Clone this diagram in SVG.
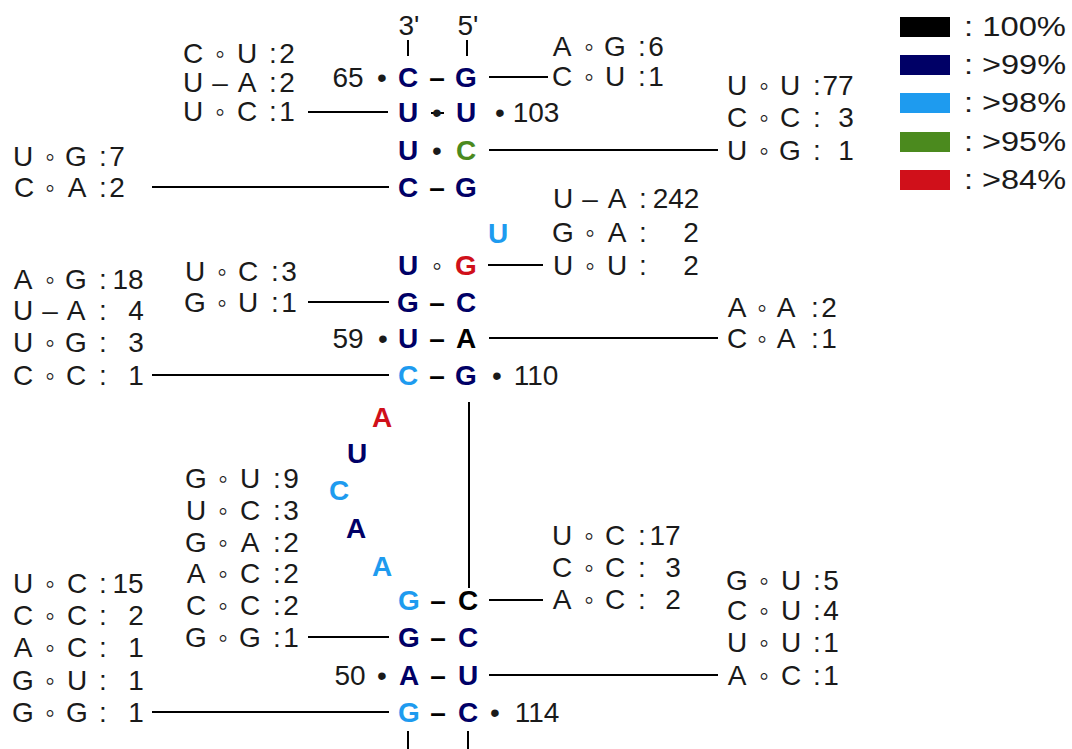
<svg xmlns="http://www.w3.org/2000/svg" width="1072" height="749" viewBox="0 0 1072 749">
<style>
.lb{font-family:"Liberation Sans",Arial,sans-serif;font-size:28px;fill:#1a1a1a;text-anchor:middle}
.b{font-family:"Liberation Sans",Arial,sans-serif;font-size:28px;font-weight:bold;text-anchor:middle}
.n{font-family:"Liberation Sans",Arial,sans-serif;font-size:28px;fill:#1a1a1a;text-anchor:middle}
.nv{fill:#000066}.lt{fill:#1e9bef}.gr{fill:#4b8a1e}.rd{fill:#d0101a}.bk{fill:#000}
.ln{stroke:#000;stroke-width:2;fill:none}
.lg{font-family:"Liberation Sans",Arial,sans-serif;font-size:28px;fill:#1a1a1a}
</style>
<rect width="1072" height="749" fill="#fff"/>

<g id="connectors">
<line class="ln" x1="408" y1="40" x2="408" y2="56"/>
<line class="ln" x1="467" y1="40" x2="467" y2="56"/>
<line class="ln" x1="489" y1="77" x2="548" y2="77"/>
<line class="ln" x1="308" y1="112" x2="388" y2="112"/>
<line class="ln" x1="489" y1="150" x2="718" y2="150"/>
<line class="ln" x1="152" y1="187" x2="389" y2="187"/>
<line class="ln" x1="488" y1="265" x2="543" y2="265"/>
<line class="ln" x1="308" y1="302" x2="389" y2="302"/>
<line class="ln" x1="489" y1="338" x2="718" y2="338"/>
<line class="ln" x1="152" y1="375" x2="389" y2="375"/>
<line class="ln" x1="469" y1="402" x2="469" y2="588"/>
<line class="ln" x1="489" y1="600" x2="543" y2="600"/>
<line class="ln" x1="308" y1="637" x2="389" y2="637"/>
<line class="ln" x1="489" y1="675" x2="718" y2="675"/>
<line class="ln" x1="152" y1="712" x2="389" y2="712"/>
<line class="ln" x1="408" y1="731" x2="408" y2="749"/>
<line class="ln" x1="468" y1="731" x2="468" y2="749"/>
</g>

<g id="ends">
<text class="n" font-size="26" x="409" y="35">3'</text>
<text class="n" font-size="26" x="468" y="35">5'</text>
</g>

<g id="stem">
<g id="r1"><text class="n" x="348" y="87">65</text><text class="n" x="382" y="87">•</text>
<text class="b nv" x="408" y="87">C</text><text class="b bk" x="437" y="87">–</text><text class="b nv" x="466" y="87">G</text></g>
<g id="r2"><text class="b nv" x="408" y="122">U</text><line x1="431" y1="113" x2="444" y2="113" stroke="#000" stroke-width="2"/><text class="n" x="437" y="122">•</text><text class="b nv" x="466" y="122">U</text>
<text class="n" x="500" y="122">•</text><text class="n" x="536" y="122">103</text></g>
<g id="r3"><text class="b nv" x="408" y="160">U</text><text class="n" x="437" y="160">•</text><text class="b gr" x="466" y="160">C</text></g>
<g id="r4"><text class="b nv" x="408" y="197">C</text><text class="b bk" x="437" y="197">–</text><text class="b nv" x="466" y="197">G</text></g>
<g id="bulge"><text class="b lt" x="498" y="243">U</text></g>
<g id="r5"><text class="b nv" x="408" y="275">U</text><text class="n" x="437" y="275">◦</text><text class="b rd" x="466" y="275">G</text></g>
<g id="r6"><text class="b nv" x="408" y="312">G</text><text class="b bk" x="437" y="312">–</text><text class="b nv" x="466" y="312">C</text></g>
<g id="r7"><text class="n" x="348" y="348">59</text><text class="n" x="383" y="348">•</text>
<text class="b nv" x="408" y="348">U</text><text class="b bk" x="437" y="348">–</text><text class="b bk" x="466" y="348">A</text></g>
<g id="r8"><text class="b lt" x="408" y="385">C</text><text class="b bk" x="437" y="385">–</text><text class="b nv" x="466" y="385">G</text>
<text class="n" x="497" y="385">•</text><text class="n" x="536" y="385">110</text></g>
<g id="loop">
<text class="b rd" x="382" y="427">A</text>
<text class="b nv" x="357" y="463">U</text>
<text class="b lt" x="339" y="500">C</text>
<text class="b nv" x="356" y="538">A</text>
<text class="b lt" x="382" y="576">A</text>
</g>
<g id="r9"><text class="b lt" x="409" y="610">G</text><text class="b bk" x="438" y="610">–</text><text class="b bk" x="468" y="610">C</text></g>
<g id="r10"><text class="b nv" x="409" y="647">G</text><text class="b bk" x="438" y="647">–</text><text class="b nv" x="468" y="647">C</text></g>
<g id="r11"><text class="n" x="350" y="685">50</text><text class="n" x="382" y="685">•</text>
<text class="b nv" x="409" y="685">A</text><text class="b bk" x="438" y="685">–</text><text class="b nv" x="468" y="685">U</text></g>
<g id="r12"><text class="b lt" x="409" y="722">G</text><text class="b bk" x="438" y="722">–</text><text class="b nv" x="468" y="722">C</text>
<text class="n" x="495" y="722">•</text><text class="n" x="537" y="722">114</text></g>
</g>

<g id="blockA" class="lb">
<text y="63"><tspan x="193">C</tspan><tspan x="220">◦</tspan><tspan x="247">U</tspan><tspan x="273">:</tspan><tspan x="287">2</tspan></text>
<text y="92"><tspan x="193">U</tspan><tspan x="220">–</tspan><tspan x="247">A</tspan><tspan x="273">:</tspan><tspan x="287">2</tspan></text>
<text y="121"><tspan x="193">U</tspan><tspan x="220">◦</tspan><tspan x="247">C</tspan><tspan x="273">:</tspan><tspan x="287">1</tspan></text>
</g>
<g id="blockB" class="lb">
<text y="56"><tspan x="562">A</tspan><tspan x="589">◦</tspan><tspan x="615">G</tspan><tspan x="642">:</tspan><tspan x="656">6</tspan></text>
<text y="86"><tspan x="562">C</tspan><tspan x="589">◦</tspan><tspan x="615">U</tspan><tspan x="642">:</tspan><tspan x="656">1</tspan></text>
</g>
<g id="blockC" class="lb">
<text y="95"><tspan x="737">U</tspan><tspan x="764">◦</tspan><tspan x="790">U</tspan><tspan x="817">:</tspan><tspan x="838">77</tspan></text>
<text y="127"><tspan x="737">C</tspan><tspan x="764">◦</tspan><tspan x="790">C</tspan><tspan x="817">:</tspan><tspan x="846">3</tspan></text>
<text y="160"><tspan x="737">U</tspan><tspan x="764">◦</tspan><tspan x="790">G</tspan><tspan x="817">:</tspan><tspan x="846">1</tspan></text>
</g>
<g id="blockD" class="lb">
<text y="166"><tspan x="23">U</tspan><tspan x="50">◦</tspan><tspan x="76">G</tspan><tspan x="103">:</tspan><tspan x="117">7</tspan></text>
<text y="197"><tspan x="24">C</tspan><tspan x="50">◦</tspan><tspan x="77">A</tspan><tspan x="103">:</tspan><tspan x="117">2</tspan></text>
</g>
<g id="blockE" class="lb">
<text y="289"><tspan x="23">A</tspan><tspan x="50">◦</tspan><tspan x="76">G</tspan><tspan x="103">:</tspan><tspan x="128">18</tspan></text>
<text y="320"><tspan x="23">U</tspan><tspan x="50">–</tspan><tspan x="76">A</tspan><tspan x="103">:</tspan><tspan x="136">4</tspan></text>
<text y="352"><tspan x="23">U</tspan><tspan x="50">◦</tspan><tspan x="76">G</tspan><tspan x="103">:</tspan><tspan x="136">3</tspan></text>
<text y="385"><tspan x="23">C</tspan><tspan x="50">◦</tspan><tspan x="76">C</tspan><tspan x="103">:</tspan><tspan x="136">1</tspan></text>
</g>
<g id="blockH" class="lb">
<text y="281"><tspan x="195">U</tspan><tspan x="222">◦</tspan><tspan x="248">C</tspan><tspan x="275">:</tspan><tspan x="289">3</tspan></text>
<text y="312"><tspan x="195">G</tspan><tspan x="222">◦</tspan><tspan x="248">U</tspan><tspan x="275">:</tspan><tspan x="289">1</tspan></text>
</g>
<g id="blockI" class="lb">
<text y="208"><tspan x="563">U</tspan><tspan x="590">–</tspan><tspan x="617">A</tspan><tspan x="643">:</tspan><tspan x="676">242</tspan></text>
<text y="242"><tspan x="563">G</tspan><tspan x="590">◦</tspan><tspan x="617">A</tspan><tspan x="643">:</tspan><tspan x="691">2</tspan></text>
<text y="275"><tspan x="563">U</tspan><tspan x="590">◦</tspan><tspan x="617">U</tspan><tspan x="643">:</tspan><tspan x="691">2</tspan></text>
</g>
<g id="blockJ" class="lb">
<text y="317"><tspan x="737">A</tspan><tspan x="762">◦</tspan><tspan x="786">A</tspan><tspan x="815">:</tspan><tspan x="829">2</tspan></text>
<text y="348"><tspan x="737">C</tspan><tspan x="762">◦</tspan><tspan x="786">A</tspan><tspan x="815">:</tspan><tspan x="829">1</tspan></text>
</g>
<g id="blockF" class="lb">
<text y="488"><tspan x="196">G</tspan><tspan x="223">◦</tspan><tspan x="250">U</tspan><tspan x="277">:</tspan><tspan x="291">9</tspan></text>
<text y="520"><tspan x="196">U</tspan><tspan x="223">◦</tspan><tspan x="250">C</tspan><tspan x="277">:</tspan><tspan x="291">3</tspan></text>
<text y="552"><tspan x="196">G</tspan><tspan x="223">◦</tspan><tspan x="250">A</tspan><tspan x="277">:</tspan><tspan x="291">2</tspan></text>
<text y="583"><tspan x="196">A</tspan><tspan x="223">◦</tspan><tspan x="250">C</tspan><tspan x="277">:</tspan><tspan x="291">2</tspan></text>
<text y="615"><tspan x="196">C</tspan><tspan x="223">◦</tspan><tspan x="250">C</tspan><tspan x="277">:</tspan><tspan x="291">2</tspan></text>
<text y="647"><tspan x="196">G</tspan><tspan x="223">◦</tspan><tspan x="250">G</tspan><tspan x="277">:</tspan><tspan x="291">1</tspan></text>
</g>
<g id="blockK" class="lb">
<text y="545"><tspan x="562">U</tspan><tspan x="589">◦</tspan><tspan x="615">C</tspan><tspan x="642">:</tspan><tspan x="665">17</tspan></text>
<text y="577"><tspan x="562">C</tspan><tspan x="589">◦</tspan><tspan x="615">C</tspan><tspan x="642">:</tspan><tspan x="673">3</tspan></text>
<text y="609"><tspan x="562">A</tspan><tspan x="589">◦</tspan><tspan x="615">C</tspan><tspan x="642">:</tspan><tspan x="673">2</tspan></text>
</g>
<g id="blockL" class="lb">
<text y="590"><tspan x="737">G</tspan><tspan x="764">◦</tspan><tspan x="791">U</tspan><tspan x="817">:</tspan><tspan x="831">5</tspan></text>
<text y="620"><tspan x="737">C</tspan><tspan x="764">◦</tspan><tspan x="791">U</tspan><tspan x="817">:</tspan><tspan x="831">4</tspan></text>
<text y="652"><tspan x="737">U</tspan><tspan x="764">◦</tspan><tspan x="791">U</tspan><tspan x="817">:</tspan><tspan x="831">1</tspan></text>
<text y="685"><tspan x="737">A</tspan><tspan x="764">◦</tspan><tspan x="791">C</tspan><tspan x="817">:</tspan><tspan x="831">1</tspan></text>
</g>
<g id="blockG" class="lb">
<text y="593"><tspan x="23">U</tspan><tspan x="50">◦</tspan><tspan x="77">C</tspan><tspan x="103">:</tspan><tspan x="128">15</tspan></text>
<text y="625"><tspan x="23">C</tspan><tspan x="50">◦</tspan><tspan x="77">C</tspan><tspan x="103">:</tspan><tspan x="136">2</tspan></text>
<text y="657"><tspan x="23">A</tspan><tspan x="50">◦</tspan><tspan x="77">C</tspan><tspan x="103">:</tspan><tspan x="136">1</tspan></text>
<text y="690"><tspan x="23">G</tspan><tspan x="50">◦</tspan><tspan x="77">U</tspan><tspan x="103">:</tspan><tspan x="136">1</tspan></text>
<text y="722"><tspan x="23">G</tspan><tspan x="50">◦</tspan><tspan x="77">G</tspan><tspan x="103">:</tspan><tspan x="136">1</tspan></text>
</g>

<g id="legend">
<rect x="900" y="17" width="50" height="20" fill="#000"/>
<rect x="900" y="55" width="50" height="20" fill="#000066"/>
<rect x="900" y="93" width="50" height="20" fill="#1e9bef"/>
<rect x="900" y="132" width="50" height="20" fill="#4b8a1e"/>
<rect x="900" y="170" width="50" height="20" fill="#d0101a"/>
<text class="lg" x="964" y="36" textLength="102" lengthAdjust="spacingAndGlyphs">: 100%</text>
<text class="lg" x="964" y="74" textLength="102" lengthAdjust="spacingAndGlyphs">: &gt;99%</text>
<text class="lg" x="964" y="112" textLength="102" lengthAdjust="spacingAndGlyphs">: &gt;98%</text>
<text class="lg" x="964" y="151" textLength="102" lengthAdjust="spacingAndGlyphs">: &gt;95%</text>
<text class="lg" x="964" y="189" textLength="102" lengthAdjust="spacingAndGlyphs">: &gt;84%</text>
</g>
</svg>
